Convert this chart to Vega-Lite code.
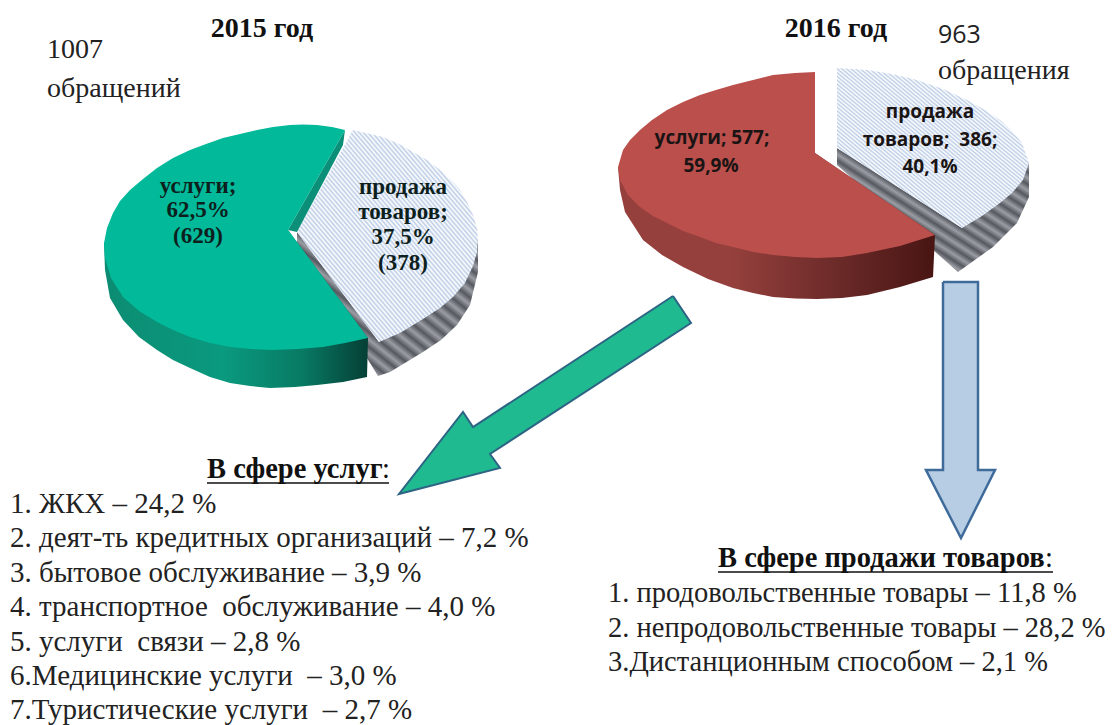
{"$schema":"https://vega.github.io/schema/vega-lite/v6.json","width":1112,"height":725,"padding":0,"autosize":"none","background":"white","view":{"stroke":null},
"config":{"style":{"hatch":{"fill":{"gradient":"linear","x1":0,"y1":1,"x2":1,"y2":0,"stops":[
{"offset":0,"color":"#fff"},{"offset":0.006,"color":"#bccde6"},{"offset":0.012,"color":"#fff"},{"offset":0.018,"color":"#bccde6"},{"offset":0.024,"color":"#fff"},{"offset":0.03,"color":"#bccde6"},{"offset":0.036,"color":"#fff"},{"offset":0.042,"color":"#bccde6"},{"offset":0.048,"color":"#fff"},{"offset":0.054,"color":"#bccde6"},{"offset":0.06,"color":"#fff"},{"offset":0.066,"color":"#bccde6"},{"offset":0.072,"color":"#fff"},{"offset":0.078,"color":"#bccde6"},{"offset":0.084,"color":"#fff"},{"offset":0.09,"color":"#bccde6"},{"offset":0.096,"color":"#fff"},{"offset":0.102,"color":"#bccde6"},{"offset":0.108,"color":"#fff"},{"offset":0.114,"color":"#bccde6"},{"offset":0.12,"color":"#fff"},{"offset":0.126,"color":"#bccde6"},{"offset":0.132,"color":"#fff"},{"offset":0.138,"color":"#bccde6"},{"offset":0.144,"color":"#fff"},{"offset":0.15,"color":"#bccde6"},{"offset":0.156,"color":"#fff"},{"offset":0.162,"color":"#bccde6"},{"offset":0.168,"color":"#fff"},{"offset":0.174,"color":"#bccde6"},{"offset":0.18,"color":"#fff"},{"offset":0.186,"color":"#bccde6"},{"offset":0.192,"color":"#fff"},{"offset":0.198,"color":"#bccde6"},{"offset":0.204,"color":"#fff"},{"offset":0.21,"color":"#bccde6"},{"offset":0.216,"color":"#fff"},{"offset":0.222,"color":"#bccde6"},{"offset":0.228,"color":"#fff"},{"offset":0.234,"color":"#bccde6"},{"offset":0.24,"color":"#fff"},{"offset":0.246,"color":"#bccde6"},{"offset":0.252,"color":"#fff"},{"offset":0.258,"color":"#bccde6"},{"offset":0.264,"color":"#fff"},{"offset":0.27,"color":"#bccde6"},{"offset":0.276,"color":"#fff"},{"offset":0.282,"color":"#bccde6"},{"offset":0.288,"color":"#fff"},{"offset":0.294,"color":"#bccde6"},{"offset":0.3,"color":"#fff"},{"offset":0.306,"color":"#bccde6"},{"offset":0.312,"color":"#fff"},{"offset":0.318,"color":"#bccde6"},{"offset":0.324,"color":"#fff"},{"offset":0.33,"color":"#bccde6"},{"offset":0.336,"color":"#fff"},{"offset":0.342,"color":"#bccde6"},{"offset":0.348,"color":"#fff"},{"offset":0.354,"color":"#bccde6"},{"offset":0.36,"color":"#fff"},{"offset":0.366,"color":"#bccde6"},{"offset":0.372,"color":"#fff"},{"offset":0.378,"color":"#bccde6"},{"offset":0.384,"color":"#fff"},{"offset":0.39,"color":"#bccde6"},{"offset":0.396,"color":"#fff"},{"offset":0.402,"color":"#bccde6"},{"offset":0.408,"color":"#fff"},{"offset":0.414,"color":"#bccde6"},{"offset":0.42,"color":"#fff"},{"offset":0.426,"color":"#bccde6"},{"offset":0.432,"color":"#fff"},{"offset":0.438,"color":"#bccde6"},{"offset":0.444,"color":"#fff"},{"offset":0.45,"color":"#bccde6"},{"offset":0.456,"color":"#fff"},{"offset":0.462,"color":"#bccde6"},{"offset":0.468,"color":"#fff"},{"offset":0.474,"color":"#bccde6"},{"offset":0.48,"color":"#fff"},{"offset":0.486,"color":"#bccde6"},{"offset":0.492,"color":"#fff"},{"offset":0.498,"color":"#bccde6"},{"offset":0.504,"color":"#fff"},{"offset":0.51,"color":"#bccde6"},{"offset":0.516,"color":"#fff"},{"offset":0.522,"color":"#bccde6"},{"offset":0.528,"color":"#fff"},{"offset":0.534,"color":"#bccde6"},{"offset":0.54,"color":"#fff"},{"offset":0.546,"color":"#bccde6"},{"offset":0.552,"color":"#fff"},{"offset":0.558,"color":"#bccde6"},{"offset":0.564,"color":"#fff"},{"offset":0.57,"color":"#bccde6"},{"offset":0.576,"color":"#fff"},{"offset":0.582,"color":"#bccde6"},{"offset":0.588,"color":"#fff"},{"offset":0.594,"color":"#bccde6"},{"offset":0.6,"color":"#fff"},{"offset":0.606,"color":"#bccde6"},{"offset":0.612,"color":"#fff"},{"offset":0.618,"color":"#bccde6"},{"offset":0.624,"color":"#fff"},{"offset":0.63,"color":"#bccde6"},{"offset":0.636,"color":"#fff"},{"offset":0.642,"color":"#bccde6"},{"offset":0.648,"color":"#fff"},{"offset":0.654,"color":"#bccde6"},{"offset":0.66,"color":"#fff"},{"offset":0.666,"color":"#bccde6"},{"offset":0.672,"color":"#fff"},{"offset":0.678,"color":"#bccde6"},{"offset":0.684,"color":"#fff"},{"offset":0.69,"color":"#bccde6"},{"offset":0.696,"color":"#fff"},{"offset":0.702,"color":"#bccde6"},{"offset":0.708,"color":"#fff"},{"offset":0.714,"color":"#bccde6"},{"offset":0.72,"color":"#fff"},{"offset":0.726,"color":"#bccde6"},{"offset":0.732,"color":"#fff"},{"offset":0.738,"color":"#bccde6"},{"offset":0.744,"color":"#fff"},{"offset":0.75,"color":"#bccde6"},{"offset":0.756,"color":"#fff"},{"offset":0.762,"color":"#bccde6"},{"offset":0.768,"color":"#fff"},{"offset":0.774,"color":"#bccde6"},{"offset":0.78,"color":"#fff"},{"offset":0.786,"color":"#bccde6"},{"offset":0.792,"color":"#fff"},{"offset":0.798,"color":"#bccde6"},{"offset":0.804,"color":"#fff"},{"offset":0.81,"color":"#bccde6"},{"offset":0.816,"color":"#fff"},{"offset":0.822,"color":"#bccde6"},{"offset":0.828,"color":"#fff"},{"offset":0.834,"color":"#bccde6"},{"offset":0.84,"color":"#fff"},{"offset":0.846,"color":"#bccde6"},{"offset":0.852,"color":"#fff"},{"offset":0.858,"color":"#bccde6"},{"offset":0.864,"color":"#fff"},{"offset":0.87,"color":"#bccde6"},{"offset":0.876,"color":"#fff"},{"offset":0.882,"color":"#bccde6"},{"offset":0.888,"color":"#fff"},{"offset":0.894,"color":"#bccde6"},{"offset":0.9,"color":"#fff"},{"offset":0.906,"color":"#bccde6"},{"offset":0.912,"color":"#fff"},{"offset":0.918,"color":"#bccde6"},{"offset":0.924,"color":"#fff"},{"offset":0.93,"color":"#bccde6"},{"offset":0.936,"color":"#fff"},{"offset":0.942,"color":"#bccde6"},{"offset":0.948,"color":"#fff"},{"offset":0.954,"color":"#bccde6"},{"offset":0.96,"color":"#fff"},{"offset":0.966,"color":"#bccde6"},{"offset":0.972,"color":"#fff"},{"offset":0.978,"color":"#bccde6"},{"offset":0.984,"color":"#fff"},{"offset":0.99,"color":"#bccde6"},{"offset":0.996,"color":"#fff"}]}},
"wall":{"fill":{"gradient":"linear","x1":0,"y1":1,"x2":1,"y2":0,"stops":[
{"offset":0,"color":"#55585e"},{"offset":0.025,"color":"#9a9da3"},{"offset":0.05,"color":"#55585e"},{"offset":0.075,"color":"#9a9da3"},{"offset":0.1,"color":"#55585e"},{"offset":0.125,"color":"#9a9da3"},{"offset":0.15,"color":"#55585e"},{"offset":0.175,"color":"#9a9da3"},{"offset":0.2,"color":"#55585e"},{"offset":0.225,"color":"#9a9da3"},{"offset":0.25,"color":"#55585e"},{"offset":0.275,"color":"#9a9da3"},{"offset":0.3,"color":"#55585e"},{"offset":0.325,"color":"#9a9da3"},{"offset":0.35,"color":"#55585e"},{"offset":0.375,"color":"#9a9da3"},{"offset":0.4,"color":"#55585e"},{"offset":0.425,"color":"#9a9da3"},{"offset":0.45,"color":"#55585e"},{"offset":0.475,"color":"#9a9da3"},{"offset":0.5,"color":"#55585e"},{"offset":0.525,"color":"#9a9da3"},{"offset":0.55,"color":"#55585e"},{"offset":0.575,"color":"#9a9da3"},{"offset":0.6,"color":"#55585e"},{"offset":0.625,"color":"#9a9da3"},{"offset":0.65,"color":"#55585e"},{"offset":0.675,"color":"#9a9da3"},{"offset":0.7,"color":"#55585e"},{"offset":0.725,"color":"#9a9da3"},{"offset":0.75,"color":"#55585e"},{"offset":0.775,"color":"#9a9da3"},{"offset":0.8,"color":"#55585e"},{"offset":0.825,"color":"#9a9da3"},{"offset":0.85,"color":"#55585e"},{"offset":0.875,"color":"#9a9da3"},{"offset":0.9,"color":"#55585e"},{"offset":0.925,"color":"#9a9da3"},{"offset":0.95,"color":"#55585e"},{"offset":0.975,"color":"#9a9da3"},{"offset":1,"color":"#55585e"}]}}}},
"datasets":{"shapes":[
{"s":"wall15","i":1,"x":297,"y":232},{"s":"wall15","i":2,"x":297,"y":244},{"s":"wall15","i":3,"x":378,"y":376},{"s":"wall15","i":4,"x":390,"y":372},{"s":"wall15","i":5,"x":423,"y":352},{"s":"wall15","i":6,"x":441,"y":340},{"s":"wall15","i":7,"x":457,"y":325},{"s":"wall15","i":8,"x":470,"y":305},{"s":"wall15","i":9,"x":478,"y":272},{"s":"wall15","i":10,"x":478,"y":240},{"s":"wall15","i":11,"x":379,"y":342},
{"s":"hatch15","i":1,"x":353,"y":130},{"s":"hatch15","i":2,"x":383,"y":137},{"s":"hatch15","i":3,"x":399,"y":144},{"s":"hatch15","i":4,"x":413,"y":152},{"s":"hatch15","i":5,"x":427,"y":160},{"s":"hatch15","i":6,"x":440,"y":170},{"s":"hatch15","i":7,"x":451,"y":180},{"s":"hatch15","i":8,"x":460,"y":190},{"s":"hatch15","i":9,"x":467,"y":202},{"s":"hatch15","i":10,"x":473,"y":215},{"s":"hatch15","i":11,"x":477,"y":228},{"s":"hatch15","i":12,"x":478,"y":240},{"s":"hatch15","i":13,"x":477,"y":252},{"s":"hatch15","i":14,"x":473,"y":266},{"s":"hatch15","i":15,"x":465,"y":283},{"s":"hatch15","i":16,"x":453,"y":297},{"s":"hatch15","i":17,"x":440,"y":308},{"s":"hatch15","i":18,"x":423,"y":319},{"s":"hatch15","i":19,"x":400,"y":333},{"s":"hatch15","i":20,"x":379,"y":342},{"s":"hatch15","i":21,"x":297,"y":232},
{"s":"side15","i":1,"x":104,"y":243},{"s":"side15","i":2,"x":105,"y":270},{"s":"side15","i":3,"x":110,"y":298},{"s":"side15","i":4,"x":123,"y":320},{"s":"side15","i":5,"x":139,"y":337},{"s":"side15","i":6,"x":157,"y":350},{"s":"side15","i":7,"x":173,"y":360},{"s":"side15","i":8,"x":190,"y":368},{"s":"side15","i":9,"x":210,"y":377},{"s":"side15","i":10,"x":230,"y":383},{"s":"side15","i":11,"x":250,"y":386},{"s":"side15","i":12,"x":270,"y":388},{"s":"side15","i":13,"x":295,"y":387},{"s":"side15","i":14,"x":317,"y":385},{"s":"side15","i":15,"x":343,"y":382},{"s":"side15","i":16,"x":367,"y":377},{"s":"side15","i":17,"x":368,"y":338},{"s":"side15","i":18,"x":288,"y":230},
{"s":"band15","i":1,"x":345,"y":130},{"s":"band15","i":2,"x":288,"y":230},{"s":"band15","i":3,"x":297,"y":232},{"s":"band15","i":4,"x":343,"y":145},
{"s":"top15","i":1,"x":345,"y":130},{"s":"top15","i":2,"x":332,"y":127},{"s":"top15","i":3,"x":317,"y":125},{"s":"top15","i":4,"x":303,"y":124.5},{"s":"top15","i":5,"x":290,"y":125},{"s":"top15","i":6,"x":273,"y":127},{"s":"top15","i":7,"x":257,"y":130},{"s":"top15","i":8,"x":240,"y":134},{"s":"top15","i":9,"x":223,"y":138},{"s":"top15","i":10,"x":206,"y":144},{"s":"top15","i":11,"x":190,"y":150},{"s":"top15","i":12,"x":173,"y":158},{"s":"top15","i":13,"x":157,"y":168},{"s":"top15","i":14,"x":143,"y":179},{"s":"top15","i":15,"x":130,"y":190},{"s":"top15","i":16,"x":120,"y":201},{"s":"top15","i":17,"x":113,"y":213},{"s":"top15","i":18,"x":107,"y":228},{"s":"top15","i":19,"x":104,"y":243},{"s":"top15","i":20,"x":105,"y":258},{"s":"top15","i":21,"x":111,"y":278},{"s":"top15","i":22,"x":123,"y":297},{"s":"top15","i":23,"x":139,"y":311},{"s":"top15","i":24,"x":157,"y":322},{"s":"top15","i":25,"x":173,"y":330},{"s":"top15","i":26,"x":190,"y":337},{"s":"top15","i":27,"x":210,"y":343},{"s":"top15","i":28,"x":230,"y":347},{"s":"top15","i":29,"x":251,"y":349},{"s":"top15","i":30,"x":273,"y":350},{"s":"top15","i":31,"x":298,"y":349},{"s":"top15","i":32,"x":323,"y":347},{"s":"top15","i":33,"x":345,"y":343},{"s":"top15","i":34,"x":368,"y":338},{"s":"top15","i":35,"x":288,"y":230},
{"s":"wall16","i":1,"x":837,"y":148},{"s":"wall16","i":2,"x":837,"y":165},{"s":"wall16","i":3,"x":958,"y":272},{"s":"wall16","i":4,"x":993,"y":247},{"s":"wall16","i":5,"x":1017,"y":223},{"s":"wall16","i":6,"x":1029,"y":197},{"s":"wall16","i":7,"x":1029,"y":163},{"s":"wall16","i":8,"x":962,"y":228},
{"s":"hatch16","i":1,"x":837,"y":68},{"s":"hatch16","i":2,"x":867,"y":70},{"s":"hatch16","i":3,"x":892,"y":74},{"s":"hatch16","i":4,"x":917,"y":80},{"s":"hatch16","i":5,"x":943,"y":89},{"s":"hatch16","i":6,"x":967,"y":100},{"s":"hatch16","i":7,"x":985,"y":110},{"s":"hatch16","i":8,"x":1000,"y":120},{"s":"hatch16","i":9,"x":1012,"y":131},{"s":"hatch16","i":10,"x":1022,"y":143},{"s":"hatch16","i":11,"x":1029,"y":163},{"s":"hatch16","i":12,"x":1023,"y":180},{"s":"hatch16","i":13,"x":1012,"y":193},{"s":"hatch16","i":14,"x":1000,"y":203},{"s":"hatch16","i":15,"x":982,"y":216},{"s":"hatch16","i":16,"x":962,"y":228},{"s":"hatch16","i":17,"x":837,"y":148},
{"s":"side16","i":1,"x":618,"y":167},{"s":"side16","i":2,"x":620,"y":190},{"s":"side16","i":3,"x":625,"y":212},{"s":"side16","i":4,"x":643,"y":240},{"s":"side16","i":5,"x":662,"y":255},{"s":"side16","i":6,"x":683,"y":267},{"s":"side16","i":7,"x":708,"y":279},{"s":"side16","i":8,"x":733,"y":288},{"s":"side16","i":9,"x":753,"y":293},{"s":"side16","i":10,"x":773,"y":297},{"s":"side16","i":11,"x":795,"y":298.5},{"s":"side16","i":12,"x":817,"y":299},{"s":"side16","i":13,"x":842,"y":298},{"s":"side16","i":14,"x":867,"y":295},{"s":"side16","i":15,"x":900,"y":287},{"s":"side16","i":16,"x":933,"y":277},{"s":"side16","i":17,"x":935,"y":235},{"s":"side16","i":18,"x":815,"y":153},
{"s":"top16","i":1,"x":815,"y":72},{"s":"top16","i":2,"x":795,"y":73},{"s":"top16","i":3,"x":773,"y":75},{"s":"top16","i":4,"x":753,"y":80},{"s":"top16","i":5,"x":733,"y":85},{"s":"top16","i":6,"x":716,"y":90},{"s":"top16","i":7,"x":700,"y":95},{"s":"top16","i":8,"x":683,"y":102},{"s":"top16","i":9,"x":667,"y":110},{"s":"top16","i":10,"x":652,"y":120},{"s":"top16","i":11,"x":640,"y":130},{"s":"top16","i":12,"x":630,"y":140},{"s":"top16","i":13,"x":623,"y":150},{"s":"top16","i":14,"x":618,"y":167},{"s":"top16","i":15,"x":620,"y":180},{"s":"top16","i":16,"x":628,"y":195},{"s":"top16","i":17,"x":640,"y":207},{"s":"top16","i":18,"x":653,"y":216},{"s":"top16","i":19,"x":667,"y":223},{"s":"top16","i":20,"x":683,"y":231},{"s":"top16","i":21,"x":700,"y":237},{"s":"top16","i":22,"x":716,"y":243},{"s":"top16","i":23,"x":733,"y":247},{"s":"top16","i":24,"x":753,"y":252},{"s":"top16","i":25,"x":773,"y":255},{"s":"top16","i":26,"x":795,"y":257},{"s":"top16","i":27,"x":817,"y":258},{"s":"top16","i":28,"x":842,"y":257},{"s":"top16","i":29,"x":867,"y":253},{"s":"top16","i":30,"x":900,"y":246},{"s":"top16","i":31,"x":935,"y":235},{"s":"top16","i":32,"x":815,"y":153},
{"s":"arrowG","i":1,"x":673,"y":296},{"s":"arrowG","i":2,"x":691,"y":323},{"s":"arrowG","i":3,"x":490,"y":454},{"s":"arrowG","i":4,"x":500,"y":468},{"s":"arrowG","i":5,"x":399,"y":494},{"s":"arrowG","i":6,"x":463,"y":412},{"s":"arrowG","i":7,"x":473,"y":427},{"s":"arrowG","i":8,"x":673,"y":296},
{"s":"arrowB","i":1,"x":943,"y":282},{"s":"arrowB","i":2,"x":978,"y":282},{"s":"arrowB","i":3,"x":978,"y":470},{"s":"arrowB","i":4,"x":995,"y":470},{"s":"arrowB","i":5,"x":961,"y":538},{"s":"arrowB","i":6,"x":926,"y":470},{"s":"arrowB","i":7,"x":943,"y":470},{"s":"arrowB","i":8,"x":943,"y":282}],
"labels":[
{"k":"title","t":"2015 год","x":262,"y":37},{"k":"title","t":"2016 год","x":836,"y":37},
{"k":"note","t":"1007","x":47,"y":58},{"k":"note","t":"обращений","x":47,"y":97},{"k":"note","t":"обращения","x":938,"y":79},
{"k":"noteSans","t":"963","x":938,"y":43},
{"k":"pie15","t":"услуги;","x":198,"y":193},{"k":"pie15","t":"62,5%","x":198,"y":217},{"k":"pie15","t":"(629)","x":198,"y":243},
{"k":"pie15","t":"продажа","x":403,"y":194},{"k":"pie15","t":"товаров;","x":403,"y":219},{"k":"pie15","t":"37,5%","x":403,"y":244},{"k":"pie15","t":"(378)","x":403,"y":270},
{"k":"pie16","t":"услуги; 577;","x":712,"y":144},{"k":"pie16","t":"59,9%","x":711,"y":172},
{"k":"pie16","t":"продажа","x":930,"y":118},{"k":"pie16","t":"товаров;\u00a0 386;","x":930,"y":146},{"k":"pie16","t":"40,1%","x":930,"y":173},
{"k":"head","t":"В сфере услуг","x":207,"y":478},{"k":"head","t":"В сфере продажи товаров","x":718,"y":567},
{"k":"colon","t":":","x":382,"y":478},{"k":"colon","t":":","x":1045,"y":567},
{"k":"list","t":"1. ЖКХ – 24,2 %","x":10,"y":513},{"k":"list","t":"2. деят-ть кредитных организаций – 7,2 %","x":10,"y":547},{"k":"list","t":"3. бытовое обслуживание – 3,9 %","x":10,"y":582},{"k":"list","t":"4. транспортное\u00a0 обслуживание – 4,0 %","x":10,"y":616},{"k":"list","t":"5. услуги\u00a0 связи – 2,8 %","x":10,"y":651},{"k":"list","t":"6.Медицинские услуги\u00a0 – 3,0 %","x":10,"y":685},{"k":"list","t":"7.Туристические услуги\u00a0 – 2,7 %","x":10,"y":719},
{"k":"list2","t":"1. продовольственные товары – 11,8 %","x":608,"y":602},{"k":"list2","t":"2. непродовольственные товары – 28,2 %","x":608,"y":637},{"k":"list2","t":"3.Дистанционным способом – 2,1 %","x":608,"y":671}],
"underlines":[{"x":207,"x2":389,"y":483},{"x":718,"x2":1053,"y":572}]},
"encoding":{"x":{"field":"x","type":"quantitative","scale":{"domain":[0,1112],"nice":false,"zero":false},"axis":null},"y":{"field":"y","type":"quantitative","scale":{"domain":[725,0],"nice":false,"zero":false},"axis":null},"order":{"field":"i","type":"quantitative"}},
"layer":[
{"data":{"name":"shapes"},"transform":[{"filter":"datum.s=='wall15'"}],"mark":{"type":"line","style":"wall","stroke":"transparent"}},
{"data":{"name":"shapes"},"transform":[{"filter":"datum.s=='hatch15'"}],"mark":{"type":"line","style":"hatch","stroke":"transparent"}},
{"data":{"name":"shapes"},"transform":[{"filter":"datum.s=='side15'"}],"mark":{"type":"line","stroke":"transparent","fill":{"gradient":"linear","x1":0,"y1":0,"x2":1,"y2":0,"stops":[{"offset":0,"color":"#0c8c72"},{"offset":0.45,"color":"#0a9a7f"},{"offset":0.75,"color":"#087a64"},{"offset":1,"color":"#053f35"}]}}},
{"data":{"name":"shapes"},"transform":[{"filter":"datum.s=='band15'"}],"mark":{"type":"line","stroke":"transparent","fill":"#0b8f78"}},
{"data":{"name":"shapes"},"transform":[{"filter":"datum.s=='top15'"}],"mark":{"type":"line","stroke":"transparent","fill":"#02b99a"}},
{"data":{"name":"shapes"},"transform":[{"filter":"datum.s=='wall16'"}],"mark":{"type":"line","style":"wall","stroke":"transparent"}},
{"data":{"name":"shapes"},"transform":[{"filter":"datum.s=='hatch16'"}],"mark":{"type":"line","style":"hatch","stroke":"transparent"}},
{"data":{"name":"shapes"},"transform":[{"filter":"datum.s=='side16'"}],"mark":{"type":"line","stroke":"transparent","fill":{"gradient":"linear","x1":0,"y1":0,"x2":1,"y2":0,"stops":[{"offset":0,"color":"#95403d"},{"offset":0.35,"color":"#96403d"},{"offset":0.7,"color":"#6a2a28"},{"offset":1,"color":"#481513"}]}}},
{"data":{"name":"shapes"},"transform":[{"filter":"datum.s=='top16'"}],"mark":{"type":"line","stroke":"transparent","fill":"#bb4f4c"}},
{"data":{"name":"shapes"},"transform":[{"filter":"datum.s=='arrowG'"}],"mark":{"type":"line","stroke":"#2d6484","strokeWidth":2,"fill":"#20ba90"}},
{"data":{"name":"shapes"},"transform":[{"filter":"datum.s=='arrowB'"}],"mark":{"type":"line","stroke":"#3f6b9b","strokeWidth":2.5,"fill":"#b7cde4"}},
{"data":{"name":"underlines"},"mark":{"type":"rule","color":"#111","strokeWidth":1.5},"encoding":{"x2":{"field":"x2"},"order":{"value":null}}},
{"data":{"name":"labels"},"transform":[{"filter":"datum.k=='title'"}],"mark":{"type":"text","font":"Liberation Serif","fontWeight":"bold","fontSize":28,"align":"center","baseline":"alphabetic","color":"#111"},"encoding":{"text":{"field":"t"},"order":{"value":null}}},
{"data":{"name":"labels"},"transform":[{"filter":"datum.k=='note'"}],"mark":{"type":"text","font":"Liberation Serif","fontSize":28,"align":"left","baseline":"alphabetic","color":"#222"},"encoding":{"text":{"field":"t"},"order":{"value":null}}},
{"data":{"name":"labels"},"transform":[{"filter":"datum.k=='noteSans'"}],"mark":{"type":"text","font":"Open Sans","fontSize":25,"align":"left","baseline":"alphabetic","color":"#222"},"encoding":{"text":{"field":"t"},"order":{"value":null}}},
{"data":{"name":"labels"},"transform":[{"filter":"datum.k=='pie15'"}],"mark":{"type":"text","font":"Liberation Serif","fontWeight":"bold","fontSize":23,"align":"center","baseline":"alphabetic","color":"#0d1f1d"},"encoding":{"text":{"field":"t"},"order":{"value":null}}},
{"data":{"name":"labels"},"transform":[{"filter":"datum.k=='pie16'"}],"mark":{"type":"text","font":"Open Sans","fontWeight":"bold","fontSize":19,"align":"center","baseline":"alphabetic","color":"#1a1414"},"encoding":{"text":{"field":"t"},"order":{"value":null}}},
{"data":{"name":"labels"},"transform":[{"filter":"datum.k=='head'"}],"mark":{"type":"text","font":"Liberation Serif","fontWeight":"bold","fontSize":28.5,"align":"left","baseline":"alphabetic","color":"#111"},"encoding":{"text":{"field":"t"},"order":{"value":null}}},
{"data":{"name":"labels"},"transform":[{"filter":"datum.k=='colon'"}],"mark":{"type":"text","font":"Liberation Serif","fontSize":28.5,"align":"left","baseline":"alphabetic","color":"#111"},"encoding":{"text":{"field":"t"},"order":{"value":null}}},
{"data":{"name":"labels"},"transform":[{"filter":"datum.k=='list'"}],"mark":{"type":"text","font":"Liberation Serif","fontSize":29,"align":"left","baseline":"alphabetic","color":"#222"},"encoding":{"text":{"field":"t"},"order":{"value":null}}},
{"data":{"name":"labels"},"transform":[{"filter":"datum.k=='list2'"}],"mark":{"type":"text","font":"Liberation Serif","fontSize":28.5,"align":"left","baseline":"alphabetic","color":"#222"},"encoding":{"text":{"field":"t"},"order":{"value":null}}}
]}
